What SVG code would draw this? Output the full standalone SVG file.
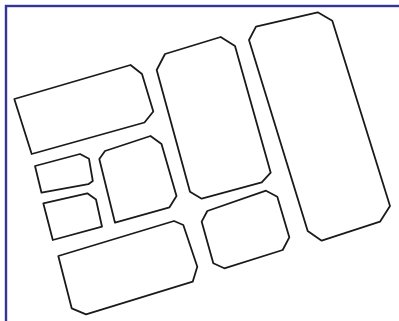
<svg xmlns="http://www.w3.org/2000/svg" width="399" height="321" viewBox="0 0 399 321">
<style>
.s{fill:#fff;stroke:#1a1a1a;stroke-width:1.8;stroke-linejoin:round}
.frame{fill:none;stroke:#333399;stroke-width:2.4}
</style>
<rect width="399" height="321" fill="#fff"/>
<rect class="frame" x="6" y="6" width="400" height="330"/>
<g id="shapeA"><polygon class="s" points="14.3,99 130.5,65 142,74 153.3,111.5 144.5,122.5 31.7,154"/></g>
<g id="shapeB"><polygon class="s" points="156.7,70 165,54 220.7,37 235,46 270.7,172.7 261.7,182.3 201.7,198.7 190,191.7"/></g>
<g id="shapeC"><polygon class="s" points="249,40 256,26.7 317.7,12.3 332.3,20.7 390,206 380,221.7 321.7,240.7 307.7,231"/></g>
<g id="shapeD"><polygon class="s" points="35,166 80,154 89,158.8 92.8,181 88.3,184.2 41.5,192.7"/></g>
<g id="shapeE"><polygon class="s" points="43.3,203.3 87.3,193.3 96,199.5 102,226.7 52.8,240"/></g>
<g id="shapeF"><polygon class="s" points="99.3,159 105,151 150.5,136 161.5,144 176.5,196 169.5,207.3 115,222.7"/></g>
<g id="shapeG"><polygon class="s" points="58.3,256 174,221 183.3,225 197.3,266.7 192.7,281.7 86,314.3 71.7,308.3"/></g>
<g id="shapeH"><polygon class="s" points="201.7,221.7 207.3,211 266,190.7 277.3,196.7 289.3,237.3 282.7,250 224.3,268.3 213.3,263.3"/></g>
<g id="connectors"></g>
</svg>
